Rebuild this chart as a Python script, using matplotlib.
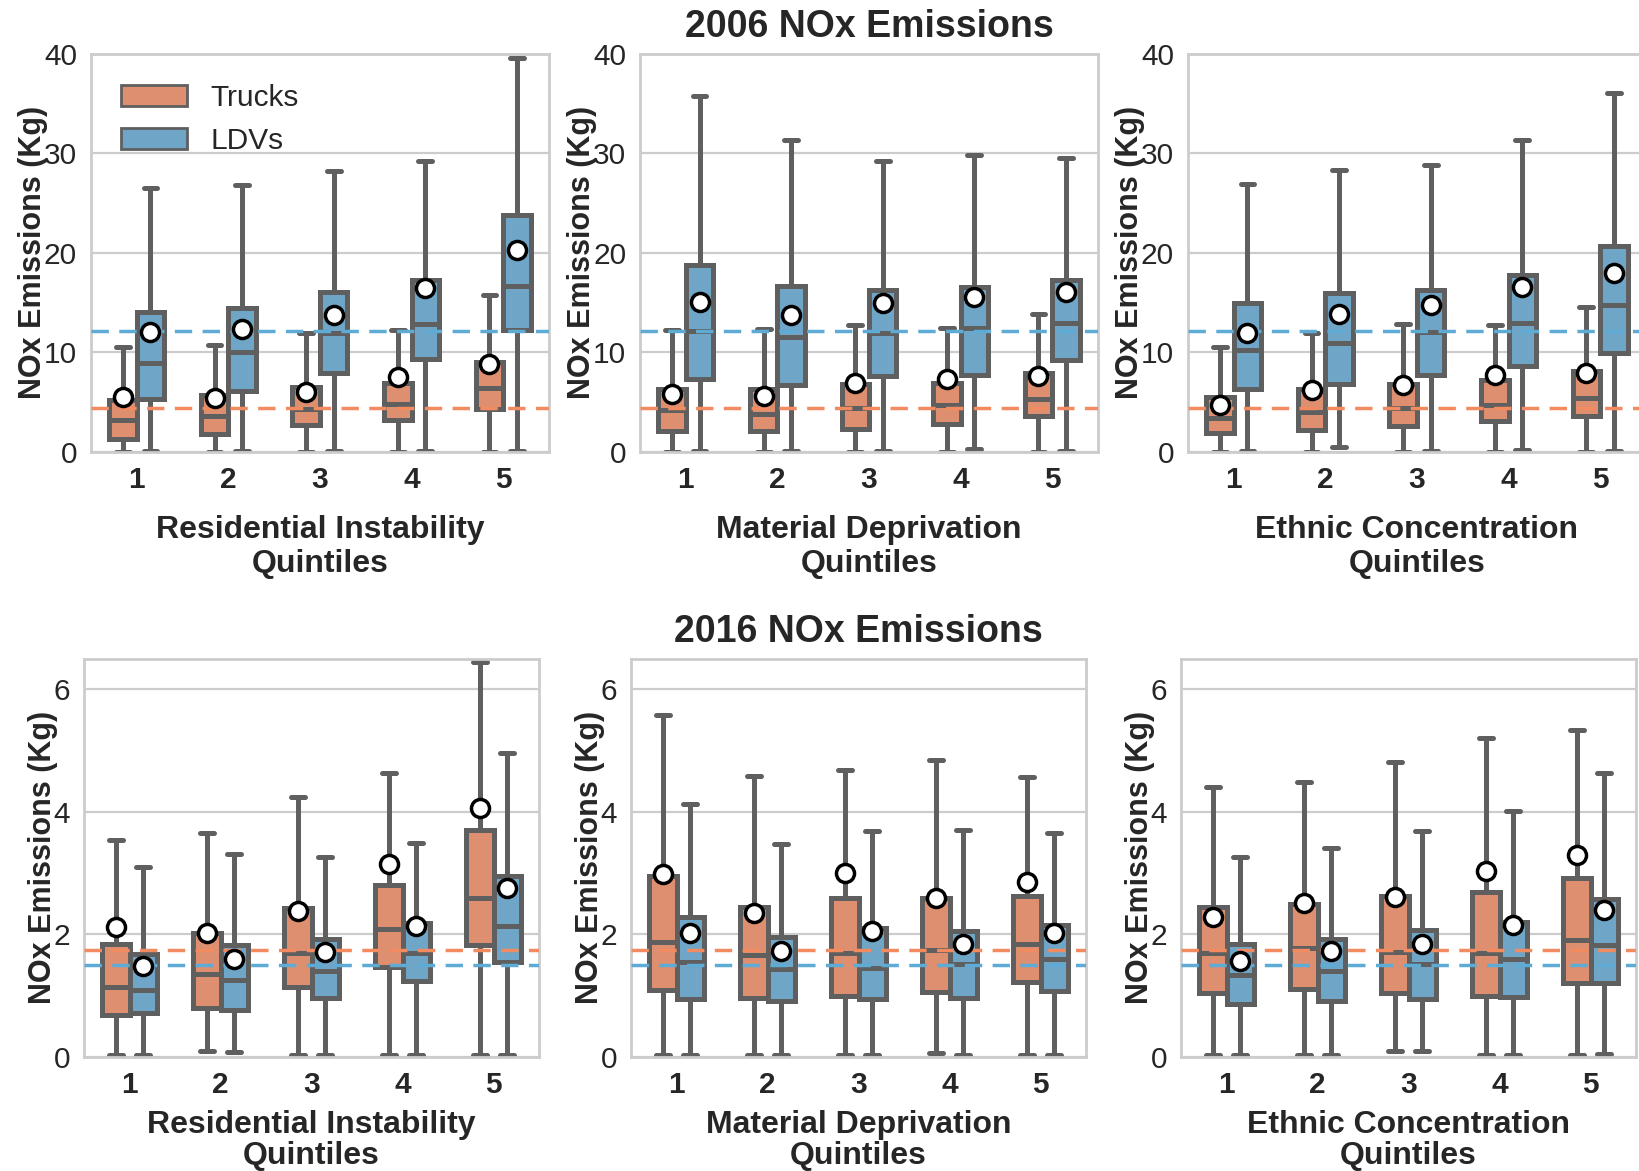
import matplotlib
matplotlib.use("Agg")
import matplotlib.pyplot as plt
from matplotlib.patches import Patch

plt.rcParams['font.family'] = ['Liberation Sans', 'DejaVu Sans']

# each row: whisker low, q1, median, q3, whisker high, mean  (quintiles 1..5)
ri06_trucks = [[0.05, 1.3, 3.2, 5.2, 10.5, 5.5],
               [0.05, 1.8, 3.6, 5.7, 10.8, 5.4],
               [0.05, 2.7, 4.3, 6.5, 12.0, 6.0],
               [0.05, 3.2, 4.8, 6.9, 12.3, 7.5],
               [0.05, 4.3, 6.4, 9.0, 15.8, 8.8]]
ri06_ldv = [[0.1, 5.3, 8.9, 14.1, 26.5, 12.1],
            [0.1, 6.1, 10.0, 14.5, 26.8, 12.4],
            [0.1, 7.9, 12.0, 16.1, 28.2, 13.8],
            [0.1, 9.3, 12.9, 17.3, 29.2, 16.5],
            [0.1, 12.3, 16.7, 23.8, 39.6, 20.3]]
md06_trucks = [[0.05, 2.1, 4.2, 6.3, 12.3, 5.8],
               [0.05, 2.1, 3.8, 6.3, 12.4, 5.6],
               [0.05, 2.3, 4.4, 6.8, 12.8, 6.9],
               [0.05, 2.8, 4.7, 6.9, 12.5, 7.3],
               [0.05, 3.6, 5.3, 7.9, 13.9, 7.6]]
md06_ldv = [[0.1, 7.3, 12.2, 18.8, 35.8, 15.1],
            [0.1, 6.7, 11.6, 16.7, 31.3, 13.8],
            [0.1, 7.6, 12.0, 16.3, 29.2, 15.0],
            [0.3, 7.7, 12.5, 16.6, 29.8, 15.6],
            [0.1, 9.2, 13.0, 17.3, 29.5, 16.1]]
ec06_trucks = [[0.05, 1.9, 3.4, 5.5, 10.5, 4.7],
               [0.05, 2.2, 4.0, 6.3, 12.0, 6.2],
               [0.05, 2.6, 4.4, 6.8, 12.9, 6.7],
               [0.05, 3.1, 4.7, 7.2, 12.8, 7.7],
               [0.05, 3.6, 5.4, 8.1, 14.6, 7.9]]
ec06_ldv = [[0.1, 6.3, 10.2, 15.0, 26.9, 12.0],
            [0.5, 6.8, 11.0, 16.0, 28.3, 13.9],
            [0.1, 7.7, 12.1, 16.3, 28.8, 14.8],
            [0.2, 8.6, 13.0, 17.8, 31.3, 16.6],
            [0.1, 9.9, 14.8, 20.7, 36.1, 18.0]]

ri16_trucks = [[0.03, 0.68, 1.15, 1.85, 3.54, 2.12],
               [0.10, 0.80, 1.35, 2.03, 3.66, 2.03],
               [0.03, 1.14, 1.70, 2.43, 4.25, 2.38],
               [0.03, 1.47, 2.09, 2.80, 4.64, 3.15],
               [0.03, 1.82, 2.60, 3.71, 6.45, 4.06]]
ri16_ldv = [[0.03, 0.71, 1.10, 1.68, 3.10, 1.49],
            [0.08, 0.77, 1.25, 1.82, 3.31, 1.60],
            [0.03, 0.96, 1.41, 1.93, 3.26, 1.71],
            [0.03, 1.24, 1.69, 2.18, 3.49, 2.14],
            [0.03, 1.55, 2.14, 2.95, 4.97, 2.76]]
md16_trucks = [[0.03, 1.10, 1.88, 2.96, 5.58, 2.99],
               [0.03, 0.96, 1.67, 2.44, 4.59, 2.35],
               [0.03, 0.99, 1.69, 2.59, 4.68, 3.01],
               [0.07, 1.06, 1.74, 2.59, 4.85, 2.59],
               [0.03, 1.22, 1.84, 2.62, 4.57, 2.85]]
md16_ldv = [[0.03, 0.95, 1.55, 2.29, 4.13, 2.03],
            [0.03, 0.91, 1.43, 1.96, 3.47, 1.73],
            [0.03, 0.94, 1.46, 2.11, 3.69, 2.06],
            [0.03, 0.96, 1.51, 2.06, 3.71, 1.85],
            [0.03, 1.07, 1.60, 2.15, 3.66, 2.03]]
ec16_trucks = [[0.03, 1.04, 1.69, 2.44, 4.41, 2.29],
               [0.03, 1.11, 1.78, 2.49, 4.49, 2.52],
               [0.09, 1.04, 1.71, 2.62, 4.81, 2.61],
               [0.03, 0.99, 1.69, 2.69, 5.20, 3.04],
               [0.03, 1.21, 1.91, 2.92, 5.34, 3.29]]
ec16_ldv = [[0.03, 0.87, 1.34, 1.85, 3.27, 1.57],
            [0.03, 0.92, 1.41, 1.93, 3.41, 1.73],
            [0.09, 0.95, 1.51, 2.08, 3.69, 1.85],
            [0.03, 0.98, 1.60, 2.20, 4.01, 2.15],
            [0.04, 1.21, 1.83, 2.58, 4.64, 2.40]]

quintiles = ['1', '2', '3', '4', '5']
xlabels = ['Residential Instability\nQuintiles',
           'Material Deprivation\nQuintiles',
           'Ethnic Concentration\nQuintiles']
ref06 = [4.4, 12.2]   # trucks, LDVs overall median
ref16 = [1.75, 1.50]

c_trk = '#dd8f70'
c_ldv = '#6fa5c6'
c_trk_line = '#f28b60'
c_ldv_line = '#5eacd6'
edge = '#5f5f5f'
txt = '#262626'

fig = plt.figure(figsize=(16.39, 11.71), dpi=100)

pos = [[0.0555, 0.614, 0.2794, 0.340],
       [0.3905, 0.614, 0.2794, 0.340],
       [0.7248, 0.614, 0.2794, 0.340],
       [0.0513, 0.0974, 0.2776, 0.340],
       [0.3850, 0.0974, 0.2776, 0.340],
       [0.7206, 0.0974, 0.2776, 0.340]]

panels = [(ri06_trucks, ri06_ldv), (md06_trucks, md06_ldv), (ec06_trucks, ec06_ldv),
          (ri16_trucks, ri16_ldv), (md16_trucks, md16_ldv), (ec16_trucks, ec16_ldv)]


def stats_of(rows):
    out = []
    for r in rows:
        out.append(dict(whislo=r[0], q1=r[1], med=r[2], q3=r[3], whishi=r[4],
                        mean=r[5], fliers=[]))
    return out


def draw_group(ax, rows, offset, color):
    xs = [i + offset for i in range(len(rows))]
    ax.bxp(stats_of(rows), positions=xs, widths=0.3, patch_artist=True,
           showmeans=False, showfliers=False,
           boxprops=dict(facecolor=color, edgecolor=edge, linewidth=3.6),
           medianprops=dict(color=edge, linewidth=3.6),
           whiskerprops=dict(color=edge, linewidth=3.6),
           capprops=dict(color=edge, linewidth=3.6, solid_capstyle='round'),
           manage_ticks=False, zorder=2)
    ax.plot(xs, [r[5] for r in rows], linestyle='none', marker='o', markersize=13,
            markerfacecolor='white', markeredgecolor='black', markeredgewidth=2.5,
            zorder=5)


for k in range(6):
    ax = fig.add_axes(pos[k])
    trk, ldv = panels[k]
    draw_group(ax, trk, -0.15, c_trk)
    draw_group(ax, ldv, 0.15, c_ldv)
    ref = ref06 if k < 3 else ref16
    ax.axhline(ref[0], color=c_trk_line, linestyle='--', linewidth=2.5, dashes=(5, 3), zorder=4)
    ax.axhline(ref[1], color=c_ldv_line, linestyle='--', linewidth=2.5, dashes=(5, 3), zorder=4)

    ax.set_xlim(-0.5, 4.5)
    ax.set_xticks(range(5))
    ax.set_xticklabels(quintiles, fontweight='bold')
    if k < 3:
        ax.set_ylim(0, 40)
        ax.set_yticks([0, 10, 20, 30, 40])
        ax.set_xlabel(xlabels[k], fontsize=23, fontweight='bold', color=txt, labelpad=15)
    else:
        ax.set_ylim(0, 6.5)
        ax.set_yticks([0, 2, 4, 6])
        ax.set_xlabel(xlabels[k - 3], fontsize=23, fontweight='bold', color=txt, labelpad=8,
                      linespacing=1.05)
    ax.set_ylabel('NOx Emissions (Kg)', fontsize=22, fontweight='bold', color=txt, labelpad=-3)
    ax.tick_params(axis='both', length=0, labelsize=21.5, colors=txt, pad=10)
    ax.grid(axis='y', color='#cccccc', linewidth=1.6, zorder=0)
    ax.set_axisbelow(True)
    for s in ax.spines.values():
        s.set_color('#cccccc')
        s.set_linewidth(2)

    if k == 0:
        hs = [Patch(facecolor=c_trk, edgecolor=edge, linewidth=2),
              Patch(facecolor=c_ldv, edgecolor=edge, linewidth=2)]
        leg = ax.legend(hs, ['Trucks', 'LDVs'], loc='upper left', frameon=False,
                        fontsize=21.5, handlelength=2.2, borderaxespad=0.6)
        for t in leg.get_texts():
            t.set_color(txt)
    if k == 1:
        ax.set_title('2006 NOx Emissions', fontsize=27, fontweight='bold', color=txt, pad=12)
    if k == 4:
        ax.set_title('2016 NOx Emissions', fontsize=27, fontweight='bold', color=txt, pad=12)

fig.savefig('out.png', dpi=100)
